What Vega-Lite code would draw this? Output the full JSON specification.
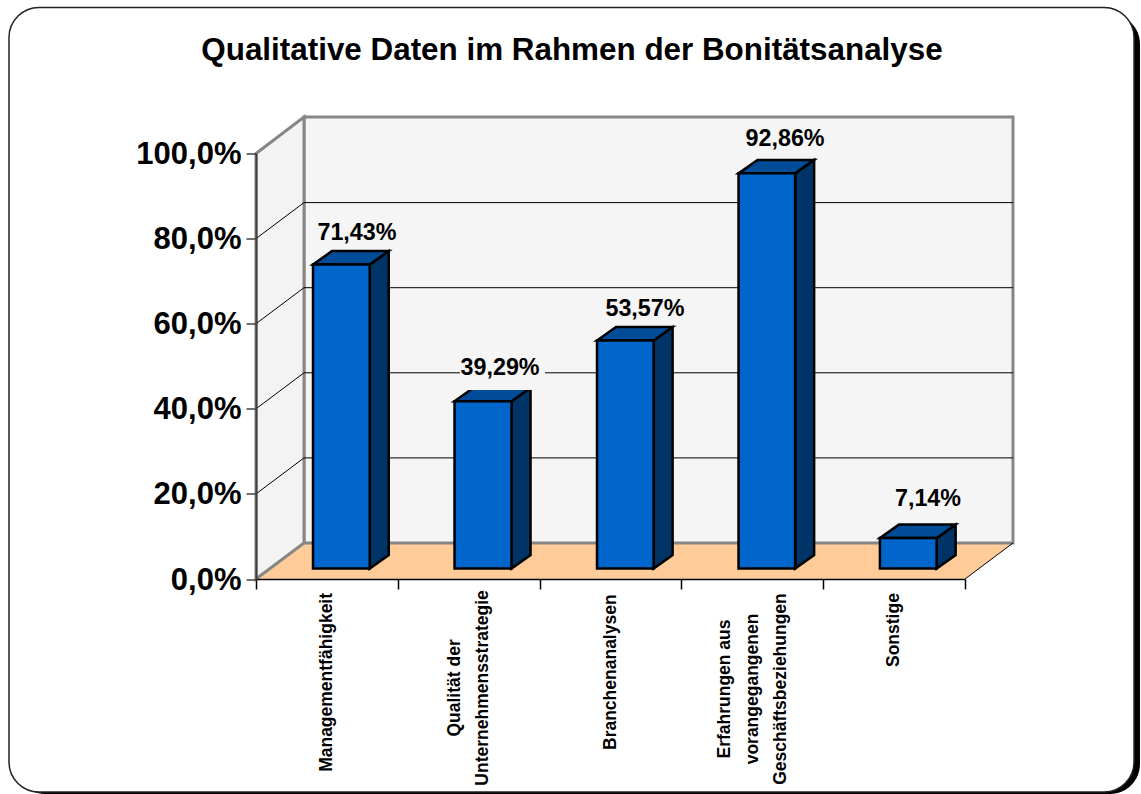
{"$schema":"https://vega.github.io/schema/vega-lite/v6.json","width":709,"height":425.5,"autosize":{"type":"none"},"padding":{"left":256,"top":153.5,"right":176,"bottom":215},"background":"white","view":{"stroke":null},
"title":{"text":"Qualitative Daten im Rahmen der Bonitätsanalyse","font":"Liberation Sans","fontSize":31.4,"fontWeight":"bold","color":"black","anchor":"middle","dx":-38.5,"offset":-60},
"datasets":{
"frameShadow":[{"x":-1.7,"x2":6.234,"y":132.79,"y2":-50.53}],
"frame":[{"x":-1.742,"x2":6.192,"y":134.31,"y2":-50.06}],
"floor":[{"x":0,"y":0,"y2":0},{"x":0.3385,"y":8.46,"y2":0},{"x":5,"y":8.46,"y2":0},{"x":5.3385,"y":8.46,"y2":8.46}],
"wall":[{"x":0.3385,"x2":5.3385,"y":108.58,"y2":8.46}],
"sideWall":[{"x":0,"y":100,"y2":0},{"x":0.3385,"y":108.58,"y2":8.46}],
"backGrid":[{"x":0.3385,"x2":5.3385,"y":28.46,"y2":28.46},{"x":0.3385,"x2":5.3385,"y":48.46,"y2":48.46},{"x":0.3385,"x2":5.3385,"y":68.46,"y2":68.46},{"x":0.3385,"x2":5.3385,"y":88.46,"y2":88.46}],
"sideGrid":[{"x":0,"x2":0.3385,"y":20,"y2":28.46},{"x":0,"x2":0.3385,"y":40,"y2":48.46},{"x":0,"x2":0.3385,"y":60,"y2":68.46},{"x":0,"x2":0.3385,"y":80,"y2":88.46},{"x":5,"x2":5.3385,"y":0,"y2":8.46}],
"bars":[{"category":"Managementfähigkeit","value":71.43,"x":0.402,"x2":0.802,"y":73.9,"y2":2.47},{"category":"Qualität der Unternehmensstrategie","value":39.29,"x":1.4,"x2":1.802,"y":41.76,"y2":2.47},{"category":"Branchenanalysen","value":53.57,"x":2.405,"x2":2.804,"y":56.04,"y2":2.47},{"category":"Erfahrungen aus vorangegangenen Geschäftsbeziehungen","value":92.86,"x":3.403,"x2":3.802,"y":95.33,"y2":2.47},{"category":"Sonstige","value":7.14,"x":4.4,"x2":4.8,"y":9.61,"y2":2.47}],
"sides":[{"bar":0,"x":0.802,"y":73.9,"y2":2.47},{"bar":0,"x":0.936,"y":77.07,"y2":5.64},{"bar":1,"x":1.802,"y":41.76,"y2":2.47},{"bar":1,"x":1.936,"y":44.93,"y2":5.64},{"bar":2,"x":2.804,"y":56.04,"y2":2.47},{"bar":2,"x":2.938,"y":59.21,"y2":5.64},{"bar":3,"x":3.802,"y":95.33,"y2":2.47},{"bar":3,"x":3.936,"y":98.5,"y2":5.64},{"bar":4,"x":4.8,"y":9.61,"y2":2.47},{"bar":4,"x":4.934,"y":12.78,"y2":5.64}],
"tops":[{"bar":0,"x":0.402,"y":73.9,"y2":73.9},{"bar":0,"x":0.536,"y":77.07,"y2":73.9},{"bar":0,"x":0.802,"y":77.07,"y2":73.9},{"bar":0,"x":0.936,"y":77.07,"y2":77.07},{"bar":1,"x":1.4,"y":41.76,"y2":41.76},{"bar":1,"x":1.534,"y":44.93,"y2":41.76},{"bar":1,"x":1.802,"y":44.93,"y2":41.76},{"bar":1,"x":1.936,"y":44.93,"y2":44.93},{"bar":2,"x":2.405,"y":56.04,"y2":56.04},{"bar":2,"x":2.539,"y":59.21,"y2":56.04},{"bar":2,"x":2.804,"y":59.21,"y2":56.04},{"bar":2,"x":2.938,"y":59.21,"y2":59.21},{"bar":3,"x":3.403,"y":95.33,"y2":95.33},{"bar":3,"x":3.537,"y":98.5,"y2":95.33},{"bar":3,"x":3.802,"y":98.5,"y2":95.33},{"bar":3,"x":3.936,"y":98.5,"y2":98.5},{"bar":4,"x":4.4,"y":9.61,"y2":9.61},{"bar":4,"x":4.534,"y":12.78,"y2":9.61},{"bar":4,"x":4.8,"y":12.78,"y2":9.61},{"bar":4,"x":4.934,"y":12.78,"y2":12.78}],
"patch":[{"x":1.439,"x2":2.038,"y":54.29,"y2":44.42}],
"values":[{"label":"71,43%","x":0.712,"y":81.35},{"label":"39,29%","x":1.721,"y":49.62},{"label":"53,57%","x":2.743,"y":63.49},{"label":"92,86%","x":3.731,"y":103.44},{"label":"7,14%","x":4.739,"y":18.84}],
"cats":[{"label":"Managementfähigkeit","x":0.5,"y":-24.3},{"label":"Qualität der\nUnternehmensstrategie","x":1.401,"y":-25.6},{"label":"Branchenanalysen","x":2.5,"y":-21.9},{"label":"Erfahrungen aus\nvorangegangenen\nGeschäftsbeziehungen","x":3.31,"y":-25.85},{"label":"Sonstige","x":4.5,"y":-12}]
},
"encoding":{
"x":{"field":"x","type":"quantitative","scale":{"domain":[0,5],"nice":false,"zero":false},"axis":{"title":null,"values":[0,1,2,3,4,5],"labels":false,"grid":false,"domain":true,"domainColor":"black","domainWidth":1.5,"tickColor":"black","tickWidth":1.5,"tickSize":10,"zindex":1}},
"y":{"field":"y","type":"quantitative","scale":{"domain":[0,100],"nice":false,"zero":false},"axis":{"title":null,"values":[0,20,40,60,80,100],"labelExpr":"replace(format(datum.value,'.1f'),'.',',')+'%'","labelFont":"Liberation Sans","labelFontSize":31,"labelFontWeight":"bold","labelColor":"black","labelPadding":5,"labelOffset":1,"grid":false,"domain":true,"domainColor":"#404040","domainWidth":2,"tickColor":"#404040","tickWidth":1.5,"tickSize":10,"zindex":1}}
},
"layer":[
{"data":{"name":"frameShadow"},"mark":{"type":"rect","fill":"black","cornerRadius":30},"encoding":{"x2":{"field":"x2"},"y2":{"field":"y2"}}},
{"data":{"name":"frame"},"mark":{"type":"rect","fill":"white","stroke":"#222222","strokeWidth":1.5,"cornerRadius":30},"encoding":{"x2":{"field":"x2"},"y2":{"field":"y2"}}},
{"data":{"name":"floor"},"mark":{"type":"area","orient":"vertical","fill":"#FFCC99"},"encoding":{"y2":{"field":"y2"}}},
{"data":{"name":"wall"},"mark":{"type":"rect","fill":"#F5F5F5","stroke":"#868686","strokeWidth":3},"encoding":{"x2":{"field":"x2"},"y2":{"field":"y2"}}},
{"data":{"name":"sideWall"},"mark":{"type":"area","orient":"vertical","fill":"#F3F3F3","stroke":"#868686","strokeWidth":3},"encoding":{"y2":{"field":"y2"}}},
{"data":{"name":"backGrid"},"mark":{"type":"rule","color":"black","strokeWidth":1},"encoding":{"x2":{"field":"x2"},"y2":{"field":"y2"}}},
{"data":{"name":"sideGrid"},"mark":{"type":"rule","color":"black","strokeWidth":1},"encoding":{"x2":{"field":"x2"},"y2":{"field":"y2"}}},
{"data":{"name":"sides"},"mark":{"type":"area","orient":"vertical","fill":"#003366","stroke":"black","strokeWidth":2.5,"strokeJoin":"miter"},"encoding":{"y2":{"field":"y2"},"detail":{"field":"bar"}}},
{"data":{"name":"tops"},"mark":{"type":"area","orient":"vertical","fill":"#004C99","stroke":"black","strokeWidth":2.5,"strokeJoin":"miter"},"encoding":{"y2":{"field":"y2"},"detail":{"field":"bar"}}},
{"data":{"name":"bars"},"mark":{"type":"rect","fill":"#0066CC","stroke":"black","strokeWidth":2.5},"encoding":{"x2":{"field":"x2"},"y2":{"field":"y2"}}},
{"data":{"name":"patch"},"mark":{"type":"rect","fill":"#F5F5F5"},"encoding":{"x2":{"field":"x2"},"y2":{"field":"y2"}}},
{"data":{"name":"values"},"mark":{"type":"text","font":"Liberation Sans","fontSize":23.3,"fontWeight":"bold","color":"black","align":"center","baseline":"middle"},"encoding":{"text":{"field":"label"}}},
{"data":{"name":"cats"},"mark":{"type":"text","font":"Liberation Sans","fontSize":17.5,"fontWeight":"bold","color":"black","align":"center","baseline":"middle","angle":270,"lineBreak":"\n","lineHeight":28},"encoding":{"text":{"field":"label"}}}
]}
